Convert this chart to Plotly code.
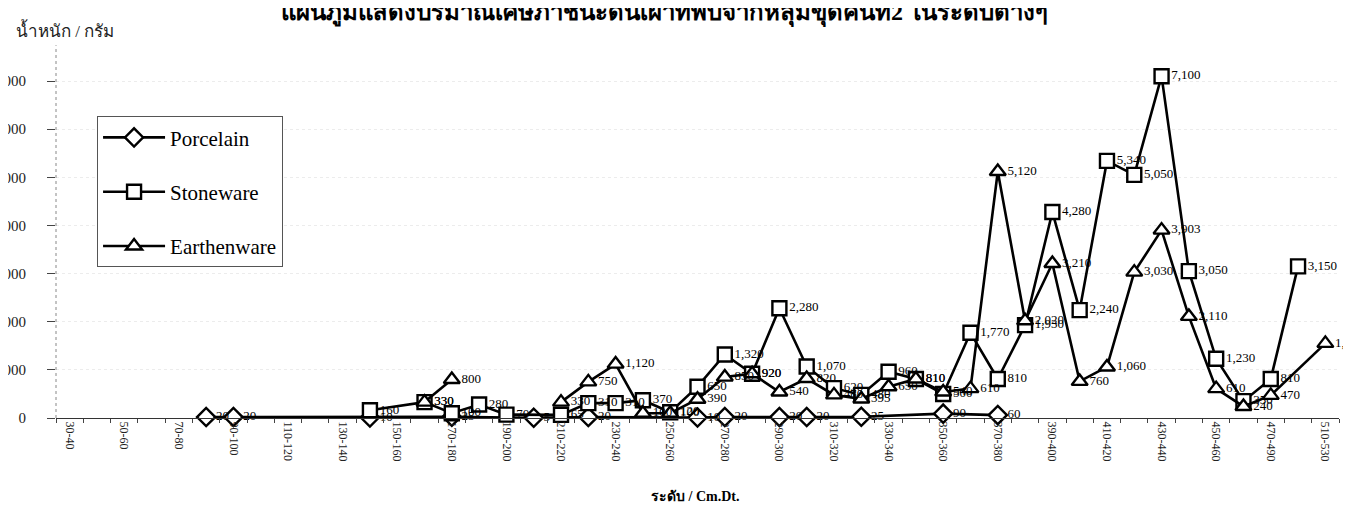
import plotly.graph_objects as go

categories = ["30-40", "40-50", "50-60", "60-70", "70-80", "80-90", "90-100", "100-110",
              "110-120", "120-130", "130-140", "140-150", "150-160", "160-170", "170-180",
              "180-190", "190-200", "200-210", "210-220", "220-230", "230-240", "240-250",
              "250-260", "260-270", "270-280", "280-290", "290-300", "300-310", "310-320",
              "320-330", "330-340", "340-350", "350-360", "360-370", "370-380", "380-390",
              "390-400", "400-410", "410-420", "420-430", "430-440", "440-450", "450-460",
              "460-470", "470-490", "490-510", "510-530"]

tick_labels = ["30-40", "", "50-60", "", "70-80", "", "90-100", "", "110-120", "", "130-140", "",
               "150-160", "", "170-180", "", "190-200", "", "210-220", "", "230-240", "",
               "250-260", "", "270-280", "", "290-300", "", "310-320", "", "330-340", "",
               "350-360", "", "370-380", "", "390-400", "", "410-420", "", "430-440", "",
               "450-460", "", "470-490", "", "510-530"]

N = None
porcelain = [N, N, N, N, N, 20, 20, N, N, N, N, 10, N, N, 25, N, N, 5, N, 20, N, N, N, 10,
             20, N, 20, 20, N, 25, N, N, 90, N, 60, N, N, N, N, N, N, N, N, N, N, N, N]

stoneware = [N, N, N, N, N, N, N, N, N, N, N, 160, N, 330, 100, 280, 70, N, 65, 310, 310, 370,
             120, 650, 1320, 920, 2280, 1070, 620, 480, 960, 810, 500, 1770, 810, 1930, 4280,
             2240, 5340, 5050, 7100, 3050, 1230, 350, 810, 3150, N]

earthenware = [N, N, N, N, N, N, N, N, N, N, N, N, N, 330, 800, N, N, N, 330, 750, 1120, 100,
               100, 390, 850, 920, 540, 820, 480, 395, 650, 810, 540, 610, 5120, 2020, 3210,
               760, 1060, 3030, 3903, 2110, 610, 240, 470, N, 1550]

series = [("Porcelain", porcelain, "diamond", True),
          ("Stoneware", stoneware, "square", True),
          ("Earthenware", earthenware, "triangle-up", False)]

SERIF = "Liberation Serif, Times New Roman, serif"
THAI = "Liberation Serif, Noto Sans, serif"

fig = go.Figure()

# Earthenware tail: the original joins 470-490 to 510-530 across the empty 490-510 cell
fig.add_trace(go.Scatter(
    x=categories[44:], y=earthenware[44:], mode="lines", connectgaps=True,
    line=dict(color="black", width=2.6), showlegend=False, hoverinfo="skip",
    cliponaxis=False,
))

for name, vals, sym, gaps in series:
    fig.add_trace(go.Scatter(
        x=categories, y=vals, name=name, legendgroup=name,
        mode="lines+markers+text",
        connectgaps=gaps,
        line=dict(color="black", width=2.6),
        marker=dict(symbol=sym, size=14, color="white",
                    line=dict(color="black", width=2.4)),
        text=[("" if v is None else f"{v:,}") for v in vals],
        textposition="middle right",
        textfont=dict(family=SERIF, size=13, color="black"),
        cliponaxis=False,
    ))

fig.update_layout(
    width=1351, height=527,
    margin=dict(l=48, r=20, t=55, b=117),
    paper_bgcolor="white", plot_bgcolor="white",
    showlegend=True,
    legend=dict(
        x=0.032, y=0.85, xanchor="left", yanchor="top",
        bgcolor="white", bordercolor="#555555", borderwidth=1,
        font=dict(family=SERIF, size=21, color="black"),
        itemwidth=62, tracegroupgap=24, traceorder="grouped",
    ),
    xaxis=dict(
        type="category", categoryorder="array", categoryarray=categories,
        range=[-0.5, len(categories) - 0.5], automargin=False,
        tickvals=categories, ticktext=tick_labels,
        tickangle=90, tickson="boundaries", ticks="outside", ticklen=4,
        tickcolor="#444444",
        tickfont=dict(family=SERIF, size=12, color="#222222"),
        showline=True, linecolor="#333333", linewidth=1,
        showgrid=False, zeroline=False,
    ),
    yaxis=dict(
        range=[0, 7374], tickvals=[0, 1000, 2000, 3000, 4000, 5000, 6000, 7000],
        tickformat=",", ticks="outside", ticklen=8, tickcolor="#444444",
        ticklabelstandoff=18, automargin=False,
        tickfont=dict(family=SERIF, size=15, color="#222222"),
        showline=False, showgrid=True, gridcolor="#ececec", griddash="dot",
        zeroline=False,
    ),
    shapes=[
        dict(type="line", xref="paper", yref="paper", x0=0, x1=0, y0=0, y1=1.05,
             line=dict(color="#888888", width=1, dash="dot")),
        dict(type="line", xref="paper", yref="paper", x0=1.0125, x1=1.0125, y0=-0.3, y1=1.16,
             line=dict(color="#999999", width=1, dash="dot")),
    ],
    annotations=[
        dict(text="<b>แผนภูมิแสดงปริมาณเศษภาชนะดินเผาที่พบจากหลุมขุดค้นที่2 ในระดับต่างๆ</b>",
             xref="paper", yref="paper", x=0.474, y=1.146, xanchor="center", yanchor="middle",
             showarrow=False, font=dict(family=THAI, size=24, color="black")),
        dict(text="น้ำหนัก / กรัม", xref="paper", yref="paper", x=-0.033, y=1.093,
             xanchor="left", yanchor="middle", showarrow=False,
             font=dict(family=THAI, size=17, color="#222222")),
        dict(text="<b>ระดับ / Cm.Dt.</b>", xref="paper", yref="paper", x=0.498, y=-0.222,
             xanchor="center", yanchor="middle", showarrow=False,
             font=dict(family=THAI, size=14, color="black")),
    ],
)

fig.write_html("out.html")
